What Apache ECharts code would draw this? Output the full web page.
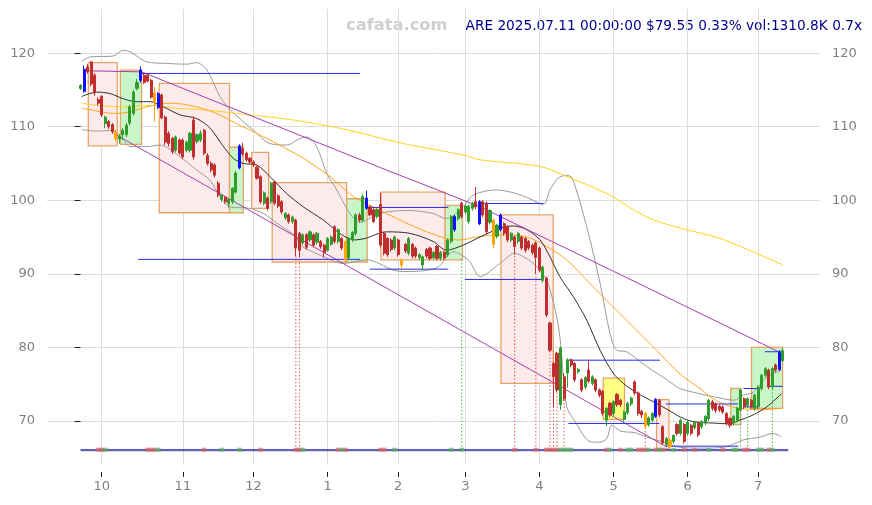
<!DOCTYPE html>
<html><head><meta charset="utf-8">
<script src="https://cdn.jsdelivr.net/npm/echarts@6/dist/echarts.min.js"></script>
<style>html,body{margin:0;padding:0;background:#fff}#c{width:872px;height:505px}</style>
</head><body><div id="c"></div><script>
// ---- trading days (category axis) ----
const tradingDays = [
  ['2024-09', [23,24,25,26,27,30]],
  ['2024-10', [1,2,3,4,7,8,9,10,11,14,15,16,17,18,21,22,23,24,25,28,29,30,31]],
  ['2024-11', [1,4,5,6,7,8,11,12,13,14,15,18,19,20,21,22,25,26,27,29]],
  ['2024-12', [2,3,4,5,6,9,10,11,12,13,16,17,18,19,20,23,24,26,27,30,31]],
  ['2025-01', [2,3,6,7,8,10,13,14,15,16,17,21,22,23,24,27,28,29,30,31]],
  ['2025-02', [3,4,5,6,7,10,11,12,13,14,18,19,20,21,24,25,26,27,28]],
  ['2025-03', [3,4,5,6,7,10,11,12,13,14,17,18,19,20,21,24,25,26,27,28,31]],
  ['2025-04', [1,2,3,4,7,8,9,10,11,14,15,16,17,21,22,23,24,25,28,29,30]],
  ['2025-05', [1,2,5,6,7,8,9,12,13,14,15,16,19,20,21,22,23,27,28,29,30]],
  ['2025-06', [2,3,4,5,6,9,10,11,12,13,16,17,18,20,23,24,25,26,27,30]],
  ['2025-07', [1,2,3,7,8,9,10,11]]
];
const monthTicks = ['2024-10-01','2024-11-01','2024-12-02','2025-01-02','2025-02-03','2025-03-03','2025-04-01','2025-05-01','2025-06-02','2025-07-01'];
const yTicks = [70, 80, 90, 100, 110, 120];

// ---- OHLC: [open, close, low, high] ----
const ohlc = [
[115.2,115.6,115.0,115.8],[114.8,117.8,114.6,118.3],[118.1,117.5,117.2,118.5],[118.8,115.8,115.5,118.9],[117.0,114.6,114.2,117.3],
[113.7,113.2,112.9,114.0],[114.1,111.6,111.3,114.3],[110.4,111.3,109.8,111.5],[110.7,110.0,109.7,110.9],[110.3,109.3,109.0,110.5],
[109.3,108.4,108.0,109.5],[108.3,108.7,107.7,109.0],[108.9,109.5,108.2,109.8],[108.9,110.2,108.6,110.5],[110.5,112.7,110.2,113.0],
[111.8,114.7,111.5,115.0],[115.2,116.0,114.9,116.5],[116.3,117.7,116.0,118.2],[117.0,116.0,115.8,117.3],[117.0,116.2,116.0,117.2],
[116.3,114.0,113.8,116.5],[114.6,113.3,110.7,115.4],[114.5,112.6,112.4,114.7],[114.3,111.2,111.0,114.5],[111.3,107.9,107.5,111.5],
[109.1,107.7,107.3,109.4],[108.4,106.6,106.3,108.6],[106.8,108.6,106.5,108.8],[108.2,106.4,106.2,108.4],[108.2,105.9,105.6,108.4],
[106.8,107.9,106.5,108.1],[106.8,109.1,106.5,109.3],[110.9,105.9,105.5,111.4],[108.0,108.9,107.7,109.1],[108.2,109.1,107.9,109.5],
[109.5,106.4,106.1,109.7],[106.1,105.0,104.7,106.4],[105.0,104.1,103.8,105.3],[104.8,103.4,103.1,105.0],[102.3,100.7,100.4,102.6],
[100.1,100.7,99.8,100.9],[100.4,99.8,99.5,100.6],[99.6,100.1,99.0,100.3],[99.8,101.6,99.5,101.8],[101.1,103.7,100.9,104.0],
[104.4,107.4,104.2,107.6],[107.0,106.3,106.0,107.8],[106.4,105.5,105.2,106.6],[105.7,105.2,104.9,105.9],[105.2,104.8,104.5,105.4],
[104.5,103.0,102.8,104.7],[103.2,99.8,99.5,103.4],[99.6,101.0,99.3,101.2],[100.3,98.9,98.6,100.5],[99.8,102.3,99.5,102.5],
[102.5,99.6,99.3,102.7],[100.6,99.2,98.9,100.8],[99.8,98.4,98.1,100.0],[97.6,98.2,97.3,98.4],[98.0,97.1,96.8,98.2],
[97.1,97.7,96.8,97.9],[97.3,93.5,92.4,97.5],[95.5,93.2,92.2,95.7],[94.2,95.3,93.9,95.5],[95.3,93.6,93.3,95.5],
[94.6,95.7,94.3,95.9],[95.3,93.9,93.6,95.5],[94.3,95.5,94.0,95.7],[94.4,93.7,93.4,94.6],[93.9,92.9,92.2,94.1],
[93.2,94.8,93.0,95.0],[94.0,95.0,93.8,95.2],[96.4,94.4,94.1,96.6],[94.4,96.0,94.1,96.2],[94.8,93.5,93.2,95.0],
[94.4,91.9,91.6,94.5],[92.2,94.8,92.0,95.0],[94.6,95.6,94.3,95.8],[95.5,98.0,95.2,98.2],[98.0,97.3,97.0,98.3],
[97.3,100.5,97.0,100.8],[98.9,100.3,98.7,101.3],[99.1,98.0,97.8,99.3],[98.7,97.1,96.9,98.9],[97.8,98.7,97.5,98.9],
[99.4,93.9,93.6,101.0],[95.5,92.8,92.5,95.7],[94.8,92.6,92.3,95.0],[94.6,93.3,93.0,94.8],[93.5,95.0,93.2,95.2],
[94.6,92.6,92.3,94.8],[91.8,91.2,90.7,92.1],[94.0,93.1,92.8,94.2],[92.8,94.8,92.5,95.0],[94.0,92.4,92.1,94.2],
[93.5,92.4,92.1,93.7],[92.2,92.6,91.9,92.8],[91.2,92.3,90.5,92.5],[93.3,92.4,92.1,93.5],[93.5,92.1,91.8,93.7],
[92.2,92.9,91.9,93.1],[93.7,92.1,91.8,93.9],[92.1,92.9,91.8,93.1],[92.9,92.2,91.9,93.1],[92.6,94.6,92.3,94.8],
[94.4,97.8,94.1,98.0],[97.8,96.0,95.7,98.0],[97.5,98.7,97.2,98.9],[99.6,97.8,97.5,99.8],[98.4,99.2,98.1,99.4],
[97.1,99.2,96.8,99.4],[98.9,99.6,98.6,99.8],[99.8,99.1,98.8,101.8],[96.8,99.8,96.6,100.0],[99.8,98.0,97.7,100.0],
[99.6,95.7,95.4,99.8],[97.0,98.6,96.7,98.8],[97.3,94.0,93.5,97.5],[95.1,96.6,94.8,96.8],[96.0,98.0,95.8,98.2],
[96.8,95.5,95.2,97.0],[96.4,94.6,94.3,96.6],[94.6,95.5,94.3,95.7],[95.0,93.7,92.6,95.2],[94.4,95.5,94.1,95.7],
[95.0,93.5,93.2,95.2],[94.8,93.2,92.9,95.0],[94.4,93.5,93.2,94.6],[93.9,92.9,92.6,94.1],[94.2,92.2,90.0,94.4],
[93.5,90.5,90.2,93.7],[89.1,90.9,88.8,91.1],[89.4,84.4,84.1,89.6],[83.3,79.6,79.3,83.5],[77.8,76.0,71.8,78.0],
[79.2,74.2,73.9,79.4],[72.2,79.9,71.5,80.1],[76.0,73.0,72.7,76.5],[76.5,78.3,74.5,78.5],[78.3,77.6,77.3,78.5],
[77.8,75.6,75.3,78.0],[76.7,77.0,76.4,77.2],[75.6,74.2,73.9,75.8],[74.6,75.9,74.3,76.1],[76.9,75.4,75.1,78.3],
[75.1,76.0,74.8,76.2],[75.6,74.2,73.9,75.8],[74.2,73.5,73.2,74.4],[74.0,71.0,70.7,74.2],[70.1,71.7,69.3,71.9],
[72.4,70.8,70.5,72.6],[71.0,72.6,70.7,72.8],[73.6,72.2,71.9,73.8],[72.8,72.2,71.9,73.0],[70.2,71.2,69.9,71.4],
[71.1,72.4,70.8,72.6],[72.3,73.1,72.0,73.3],[75.3,73.8,73.5,75.5],[73.8,71.0,70.7,74.0],[71.3,70.8,70.4,71.5],
[71.0,69.3,68.9,71.2],[69.5,70.4,69.2,70.6],[70.1,71.0,69.8,71.2],[70.6,72.9,70.4,73.1],[72.8,70.8,70.5,73.0],
[69.2,67.0,66.7,69.4],[66.8,67.6,66.5,67.8],[67.4,66.5,66.2,67.6],[67.2,68.0,66.9,68.2],[69.5,68.3,68.0,69.7],
[68.3,70.1,68.0,70.3],[69.5,67.2,66.9,69.7],[68.3,69.8,68.0,70.0],[69.4,68.3,68.0,69.6],[69.1,69.8,68.8,70.0],
[69.7,68.1,67.8,69.9],[69.2,69.9,68.9,70.1],[69.7,70.6,69.4,70.8],[70.3,72.8,70.0,73.0],[72.6,71.7,71.4,72.8],
[72.3,71.4,71.1,72.5],[72.0,71.5,71.2,72.2],[71.9,71.2,70.9,72.1],[71.0,69.7,69.4,71.2],[70.3,69.4,69.1,70.5],
[69.7,70.6,69.4,70.8],[70.1,71.7,69.8,71.9],[71.5,74.2,71.2,74.4],[73.0,71.9,71.6,73.2],[72.1,73.0,71.8,73.2],
[72.8,71.9,71.6,73.0],[71.7,73.5,71.4,73.7],[71.9,74.6,71.6,74.8],[74.4,76.2,74.1,76.4],[76.2,77.1,75.9,77.3],
[76.9,74.6,74.3,77.1],[74.6,77.1,74.3,77.3],[77.6,76.9,76.6,77.8],[77.0,79.29,76.8,79.6],[78.2,79.55,78.0,79.9]
];
const blueBars = [1,17,22,45,81,106,113,119,163,198];
const orangeBars = [10,21,75,91,117,160,167];

// ---- overlay lines: [dayIndex, value] ----
const ma20 = [[0.3,114.1],[4.6,114.7],[8.4,114.5],[12.1,113.8],[15.9,113.4],[19.7,113.4],[23.5,112.7],[28.2,111.6],[32.9,111.1],[36.7,109.8],[40.5,107.3],[43.3,105.7],[46.1,105.0],[49.9,104.8],[53.7,103.2],[58.4,100.9],[63.1,99.1],[68.8,97.3],[74.0,95.3],[77.8,94.6],[80.6,94.8],[86.7,95.7],[93.3,95.5],[99.9,94.4],[103.7,93.2],[108.4,93.9],[113.2,95.0],[118.8,96.2],[122.6,96.5],[126.4,96.0],[130.2,94.6],[133.0,92.3],[135.8,89.6],[139.6,86.9],[143.4,83.7],[147.2,79.6],[150.9,76.5],[153.8,75.1],[157.6,73.8],[162.3,72.6],[166.1,71.6],[170.0,70.5],[173.6,69.9],[179.3,69.7],[184.0,69.6],[186.8,70.1],[190.5,70.8],[194.4,71.9],[198.6,73.7]];
const ma60 = [[0.3,112.5],[2.7,112.3],[9.3,111.8],[14,112.0],[18.8,112.7],[25.4,113.2],[32.9,112.7],[39.5,111.6],[44.2,110.4],[49.9,109.1],[55.6,107.7],[63.1,105.7],[70.7,103.2],[77.3,100.5],[82.9,99.1],[90.5,97.3],[98.1,95.7],[103.7,94.8],[107.5,94.6],[112.2,95.0],[118.8,95.3],[126.4,95.0],[132.1,93.7],[137.7,91.9],[144.3,88.7],[150.9,85.5],[157.6,82.3],[163.2,79.6],[169.8,76.4],[175.5,74.4],[179.3,73.0],[183.1,72.1],[186.8,71.7],[192.5,71.5],[198.6,71.7]];
const ma120 = [[0.3,113.2],[4.6,112.9],[12.1,112.7],[19.7,112.9],[27.3,112.5],[34.8,112.3],[44.2,111.8],[53.7,111.3],[63.1,110.7],[76.3,109.5],[90.5,107.8],[108.9,106.1],[113.2,105.5],[130.2,104.6],[136.8,103.4],[149.1,100.9],[160.4,97.7],[170,96.2],[181.2,94.8],[199,91.2]];
const bbUpper = [[0.3,118.9],[2.9,119.5],[9.2,119.6],[12.1,120.4],[14,120.2],[18.8,118.8],[24.4,118.6],[30.1,118.5],[32.9,118.7],[35.8,117.7],[39.5,114.1],[42.4,112.3],[49,109.5],[53.7,107.7],[58.4,107.5],[62.2,108.4],[64.1,108.6],[66.9,107.3],[69.7,103.7],[72.6,101.4],[76.3,98.2],[79.2,97.0],[83,97.8],[86.7,98.4],[93.3,98.6],[99.9,98.2],[103.7,97.5],[108.4,99.1],[111.2,100.7],[117.8,101.4],[123.5,100.9],[127.3,100.2],[131.1,99.4],[133,101.4],[135.3,103.0],[137.7,103.4],[139.3,103.0],[143.4,96.4],[147.2,88.7],[150,81.9],[151.9,79.6],[154.7,79.4],[160.4,77.4],[166.1,75.6],[169.8,74.4],[174.5,73.8],[181.2,73.1],[185.1,72.8],[187.8,73.5],[190.6,73.9],[194.5,76.0],[198.6,76.9]];
const bbLower = [[0.3,109.6],[4.6,109.4],[9.3,109.5],[12.1,108.2],[14,107.3],[18.8,107.3],[22.5,107.5],[28.2,105.9],[32.9,104.1],[36.7,102.7],[39.5,100.5],[42.4,99.1],[48,98.9],[51.8,98.2],[55.6,96.9],[61.2,95.0],[62.2,93.9],[68,92.5],[74.4,91.4],[81.1,91.9],[88.6,90.5],[91.4,90.3],[100.9,90.8],[105.6,93.0],[110,91.8],[113.2,89.6],[118.8,91.4],[123.1,92.8],[125.5,92.3],[128.3,91.4],[132.1,89.1],[135.5,82.5],[137.7,72.0],[140,70.0],[144.3,67.2],[147.2,67.1],[149.1,67.6],[150.5,69.4],[153,68.6],[157,68.4],[160.4,67.8],[166.1,67.0],[169.8,66.4],[177.4,66.3],[183.1,66.5],[187.7,67.4],[192.5,67.8],[196.2,68.3],[198.6,67.8]];

// channel lines
const purpleLines = [
  [[2.1,117.6],[17.3,117.45]],
  [[17.3,117.45],[86.7,104.1],[99,101.8],[113.2,99.1],[138.7,93.2],[181.2,83.3],[198.6,79.2]],
  [[10.25,108.85],[166.1,66.46]]
];
// horizontal level segments: [fromIndex, toIndex, value]
const blueSegs = [
  [17.3,79.2,117.24],[16.3,79.2,91.96],[82,104.2,99.02],[82,104.2,90.63],
  [113.2,131.1,99.56],[108.9,131.1,89.23],[138.2,164.2,78.25],[138.2,164.0,69.65],
  [165.8,186.3,72.3],[165.8,186.3,66.56],[187.8,192.5,74.4],[187.8,192.0,71.9],
  [193.9,198.6,79.4],[195.3,198.9,74.7]
];
const baseLine = [0, 200.5, 66.05];
// boxes: [fromIndex, toIndex, low, high, kind 0=pink 1=green 2=yellow]
const boxes = [
  [2.2,10.4,107.4,118.7,0],[11.3,17.3,107.6,117.7,1],[22.3,42.2,98.3,115.9,0],[42.2,46.1,98.3,107.2,1],
  [48.5,53.3,98.9,106.5,0],[54.3,75.4,91.6,102.4,0],[75.4,81.2,91.6,100.2,1],[85.1,103.3,91.9,101.1,0],
  [103.3,108.2,91.9,99.3,1],[119.1,133.9,75.1,98.0,0],[148.1,154.1,70.2,75.8,2],[163.2,166.7,66.2,72.9,0],
  [184.2,187.0,69.5,74.4,1],[190.1,198.9,71.7,80.0,1]
];
// dotted verticals: [index, top value, 'r'|'g']
const vDots = [[61,92.4,'r'],[62,92.2,'r'],[108,92.0,'g'],[123,92.6,'r'],[129,90.0,'r'],[133,83.0,'r'],[134,79.8,'r'],[135,77.3,'r'],[137,74.5,'r'],[160,69.2,'r'],[187,71.5,'g'],[189,72.0,'g'],[196,74.5,'g']];
// bottom markers
const redMarks = [5,6,19,20,21,35,51,61,62,73,75,85,86,123,129,132,133,134,135,149,153,158,159,160,163,165,171,174,182,188,189,195];
const greenMarks = [7,22,40,45,63,74,89,105,108,136,137,138,139,150,155,156,161,164,168,178,185,186,192,193,196];

// ---- build ----
const PAD = 9, PAD_END = 10;
const dates = [];
tradingDays.forEach(([ym, days]) => days.forEach(d => dates.push(ym + '-' + String(d).padStart(2, '0'))));
const cats = [];
for (let i = 0; i < PAD; i++) cats.push('p' + i);
dates.forEach(d => cats.push(d));
for (let i = 0; i < PAD_END; i++) cats.push('q' + i);
const isTick = (idx, val) => monthTicks.indexOf(val) >= 0;

const UP = '#2e9d2e', DOWN = '#c12e2e', BLUE = '#1010ff', ORANGE = '#ffa500';
const FONT = 'DejaVu Sans';

const candleData = ohlc.map((d, i) => {
  const item = { value: [PAD + i, d[0], d[1], d[2], d[3]] };
  let c = null;
  if (blueBars.indexOf(i) >= 0) c = BLUE;
  if (orangeBars.indexOf(i) >= 0) c = ORANGE;
  if (c) item.itemStyle = { color: c, color0: c, borderColor: c, borderColor0: c };
  return item;
});

function line(data, color, width, extra) {
  return Object.assign({
    type: 'line', xAxisIndex: 1, yAxisIndex: 0, data: data, symbol: 'none', showSymbol: false,
    silent: true, lineStyle: { color: color, width: width }, z: 3
  }, extra || {});
}

const series = [];
const fills = ['#fdebeb', '#c9f6c9', '#ffff84'];
series.push({
  type: 'custom', xAxisIndex: 1, yAxisIndex: 0, z: 1, silent: true,
  data: boxes.map(b => [b[0], b[2], b[1], b[3], b[4]]),
  encode: { x: [0, 2], y: [1, 3] },
  renderItem: function (params, api) {
    const a = api.coord([api.value(0), api.value(3)]);
    const b = api.coord([api.value(2), api.value(1)]);
    return { type: 'rect', shape: { x: a[0], y: a[1], width: b[0] - a[0], height: b[1] - a[1] },
      style: { fill: fills[api.value(4)], stroke: '#e6a566', lineWidth: 1.3 } };
  }
});
series.push(line(bbUpper, '#9a9a9a', 1, { smooth: 0.3 }));
series.push(line(bbLower, '#9a9a9a', 1, { smooth: 0.3 }));
series.push(line(ma120, '#ffd21f', 1, { smooth: 0.3 }));
series.push(line(ma60, '#ffa51a', 1, { smooth: 0.3 }));
series.push(line(ma20, '#303030', 1, { smooth: 0.3 }));
purpleLines.forEach(p => series.push(line(p, '#a43fb0', 1)));
blueSegs.forEach(s => series.push(line([[s[0], s[2]], [s[1], s[2]]], '#2a2ae6', 1)));
vDots.forEach(v => series.push(line([[v[0], 66.05], [v[0], v[1]]], v[2] === 'r' ? '#d65a5a' : '#4fae4f', 1, { lineStyle: { color: v[2] === 'r' ? '#d65a5a' : '#4fae4f', width: 1, type: [1.5, 2] } })));
series.push(line([[baseLine[0], 65.93], [baseLine[1], 65.93]], '#888888', 1));
series.push(line([[baseLine[0], baseLine[2]], [baseLine[1], baseLine[2]]], '#2222bb', 1.3));
series.push({ type: 'scatter', xAxisIndex: 1, yAxisIndex: 0, symbol: 'rect', symbolSize: [5, 4], silent: true, z: 6,
  itemStyle: { color: 'rgba(218,100,100,0.85)' }, data: redMarks.map(i => [i, 66.08]) });
series.push({ type: 'scatter', xAxisIndex: 1, yAxisIndex: 0, symbol: 'rect', symbolSize: [5, 4], silent: true, z: 6,
  itemStyle: { color: 'rgba(90,175,90,0.85)' }, data: greenMarks.map(i => [i, 66.08]) });
series.push({
  type: 'candlestick', xAxisIndex: 0, yAxisIndex: 0, z: 5, silent: true,
  barWidth: 2.6,
  encode: { x: 0, y: [1, 2, 3, 4] },
  itemStyle: { color: UP, color0: DOWN, borderColor: UP, borderColor0: DOWN, borderWidth: 1 },
  data: candleData
});

const chart = echarts.init(document.getElementById('c'), null, { renderer: 'canvas', width: 872, height: 505 });
chart.setOption({
  animation: false,
  backgroundColor: '#ffffff',
  grid: { left: 47, right: 52, top: 9, bottom: 40, containLabel: false },
  xAxis: [
    { type: 'category', data: cats, boundaryGap: true, offset: 7,
      axisLine: { show: false },
      axisTick: { show: true, alignWithLabel: true, interval: isTick, length: 5, lineStyle: { color: '#222' } },
      axisLabel: { interval: isTick, formatter: v => String(parseInt(v.slice(5, 7), 10)), color: '#808080', fontSize: 13, fontFamily: FONT, margin: 8 },
      splitLine: { show: true, alignWithLabel: true, interval: isTick, lineStyle: { color: '#dcdcdc', width: 1 } } },
    { type: 'value', min: -PAD - 0.5, max: dates.length + PAD_END - 0.5, show: false }
  ],
  yAxis: [
    { type: 'value', min: 64, max: 126, position: 'left',
      axisLine: { show: false },
      axisTick: { show: true, length: 6, lineStyle: { color: '#222' }, customValues: yTicks },
      axisLabel: { color: '#808080', fontSize: 13, fontFamily: FONT, margin: 12, customValues: yTicks },
      splitLine: { show: true, lineStyle: { color: '#dcdcdc', width: 1 } } },
    { type: 'value', min: 64, max: 126, position: 'right',
      axisLine: { show: false }, axisTick: { show: false, customValues: yTicks },
      axisLabel: { color: '#808080', fontSize: 13, fontFamily: FONT, margin: 12, customValues: yTicks },
      splitLine: { show: false } }
  ],
  graphic: [
    { type: 'text', x: 346, y: 25.4, silent: true,
      style: { text: 'cafata.com', font: 'bold 16.3px "DejaVu Sans"', fill: '#cfcfcf', textAlign: 'left', textVerticalAlign: 'middle' } },
    { type: 'text', x: 862, y: 26.3, silent: true,
      style: { text: 'ARE 2025.07.11 00:00:00 $79.55 0.33% vol:1310.8K 0.7x', font: '13.7px "DejaVu Sans"', fill: '#00008b', textAlign: 'right', textVerticalAlign: 'middle' } }
  ],
  series: series
});
</script></body></html>
